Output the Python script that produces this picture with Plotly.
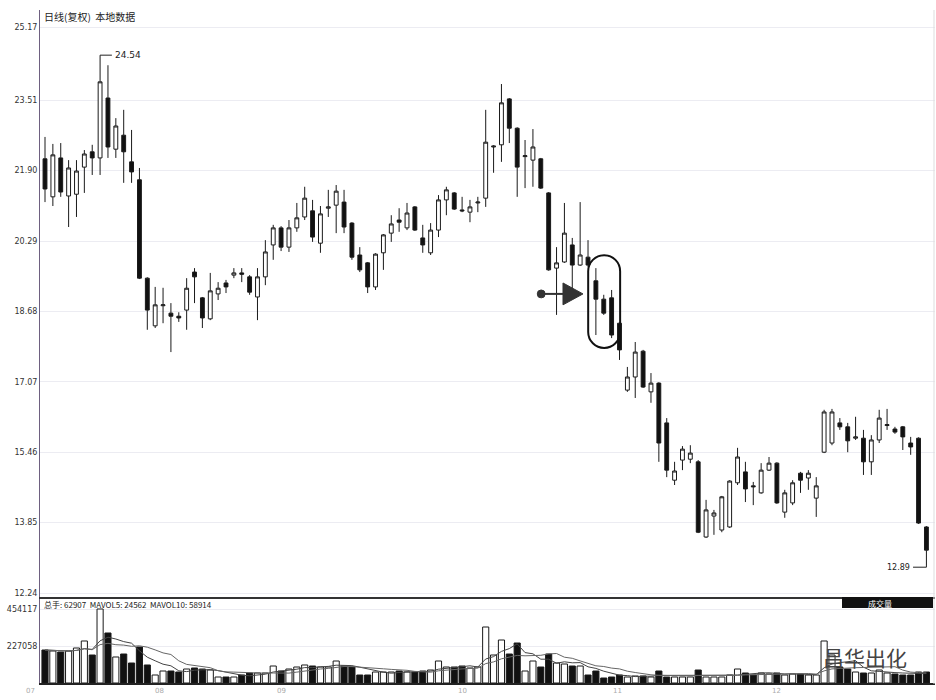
import plotly.graph_objects as go
import pandas as pd

# ---------------- data ----------------
open_ = [22.17, 21.30, 22.19, 21.32, 21.36, 21.98, 22.33, 22.19, 23.56, 22.39,
         22.71, 22.10, 21.69, 19.44, 18.35, 18.81, 18.64, 18.57, 18.71, 19.58,
         18.99, 18.51, 19.08, 19.33, 19.51, 19.56, 19.47, 19.01, 19.47, 20.20,
         20.59, 20.15, 20.59, 20.84, 20.98, 20.24, 21.04, 21.11, 21.18, 20.70,
         19.97, 19.79, 19.24, 20.02, 20.47, 20.77, 20.59, 21.07, 20.36, 20.02,
         20.54, 21.23, 21.39, 21.00, 20.95, 21.16, 21.27, 22.44, 22.49, 23.54,
         22.87, 22.22, 22.14, 22.17, 21.39, 19.67, 19.81, 20.20, 19.74, 19.92,
         19.38, 18.96, 18.99, 18.41, 16.88, 17.18, 17.77, 16.84, 17.04, 16.13,
         14.82, 15.28, 15.30, 15.24, 13.52, 14.00, 13.68, 13.75, 14.76, 15.01,
         14.69, 14.53, 15.05, 15.21, 14.09, 14.30, 14.98, 14.87, 14.41, 15.46,
         15.67, 16.13, 16.04, 15.78, 15.78, 15.24, 15.74, 16.07, 15.99, 16.04,
         15.67, 15.78, 13.75]
close = [21.48, 22.26, 21.41, 21.96, 21.89, 22.28, 22.19, 23.93, 22.44, 22.92,
         22.33, 21.87, 19.44, 18.71, 18.83, 18.83, 18.57, 18.53, 19.21, 19.47,
         18.53, 19.15, 19.21, 19.24, 19.56, 19.53, 19.12, 19.47, 20.04, 20.59,
         20.15, 20.59, 20.82, 21.27, 20.38, 20.91, 21.07, 21.43, 20.61, 19.92,
         19.63, 19.24, 19.99, 20.43, 20.68, 20.72, 20.93, 20.54, 20.20, 20.54,
         21.23, 21.46, 21.02, 20.98, 21.07, 21.18, 22.55, 22.46, 23.45, 22.87,
         21.98, 22.24, 22.44, 21.50, 19.63, 19.79, 20.47, 19.74, 19.97, 19.74,
         18.96, 18.64, 18.14, 17.80, 17.18, 17.75, 16.95, 17.04, 15.67, 15.05,
         15.03, 15.53, 15.44, 13.63, 14.14, 14.07, 14.44, 14.80, 15.35, 14.62,
         14.67, 15.05, 15.21, 14.30, 14.53, 14.76, 14.82, 14.98, 14.69, 16.38,
         16.38, 16.04, 15.72, 15.81, 15.24, 15.74, 16.24, 16.09, 15.92, 15.81,
         15.58, 13.84, 13.22]
high = [22.67, 22.51, 22.53, 22.14, 22.14, 22.37, 22.49, 24.54, 24.31, 23.10,
        23.29, 22.83, 21.96, 19.46, 19.24, 19.22, 18.87, 18.66, 19.44, 19.67,
        19.01, 19.56, 19.35, 19.40, 19.67, 19.67, 19.51, 19.67, 20.31, 20.66,
        20.63, 20.77, 21.16, 21.53, 21.23, 21.09, 21.46, 21.57, 21.46, 20.72,
        20.15, 19.81, 20.01, 20.45, 20.88, 21.04, 21.16, 21.09, 20.66, 20.70,
        21.34, 21.53, 21.41, 21.30, 21.23, 21.30, 23.29, 22.48, 23.88, 23.56,
        22.89, 22.60, 22.85, 22.19, 21.41, 20.15, 21.16, 20.36, 21.18, 20.31,
        19.67, 19.06, 19.17, 18.43, 17.41, 17.98, 17.80, 17.27, 17.06, 16.24,
        15.24, 15.60, 15.62, 15.28, 14.37, 14.14, 14.46, 14.82, 15.56, 15.24,
        14.78, 15.21, 15.35, 15.23, 14.60, 14.82, 15.01, 15.05, 14.89, 16.43,
        16.45, 16.24, 16.13, 16.27, 15.97, 15.85, 16.43, 16.45, 16.04, 16.06,
        15.81, 15.80, 13.77]
low = [21.18, 21.09, 21.30, 20.61, 20.84, 21.39, 21.80, 21.80, 22.19, 22.19,
       21.62, 21.62, 19.42, 18.26, 18.30, 18.41, 17.75, 18.44, 18.26, 18.87,
       18.30, 18.48, 18.94, 19.10, 19.44, 19.35, 19.06, 18.48, 19.28, 19.86,
       20.06, 20.04, 20.50, 20.77, 20.27, 20.02, 20.84, 20.47, 20.47, 19.86,
       19.58, 19.10, 19.17, 19.63, 20.27, 20.50, 20.54, 20.52, 20.02, 19.97,
       20.38, 20.88, 21.00, 20.95, 20.72, 20.95, 21.07, 21.85, 22.10, 22.53,
       21.30, 21.50, 21.53, 21.48, 19.61, 18.60, 19.79, 19.10, 19.72, 19.70,
       18.14, 18.60, 18.07, 17.57, 16.84, 16.70, 16.93, 16.59, 15.24, 14.89,
       14.71, 15.05, 15.21, 13.61, 13.50, 13.57, 13.63, 13.73, 14.71, 14.32,
       14.25, 14.51, 15.03, 14.28, 13.96, 14.25, 14.53, 14.60, 13.98, 15.44,
       15.62, 15.97, 15.46, 15.74, 14.94, 14.94, 15.67, 15.97, 15.88, 15.51,
       15.40, 13.82, 12.88]
volume = [202500, 196400, 190200, 196400, 214800, 257800, 171800, 454117, 306900, 159600,
          178000, 122700, 220900, 110500, 49100, 73600, 73600, 67500, 85900, 92100,
          85900, 79800, 36800, 36800, 36800, 49100, 61400, 61400, 61400, 104300,
          73600, 85900, 98200, 110500, 104300, 98200, 98200, 135000, 104300, 98200,
          49100, 49100, 67500, 67500, 67500, 73600, 67500, 67500, 73600, 79800,
          135000, 98200, 98200, 104300, 92100, 98200, 343700, 171800, 263900, 178000,
          245500, 73600, 135000, 98200, 178000, 122700, 116600, 104300, 104300, 49100,
          73600, 30700, 36800, 49100, 36800, 43000, 43000, 36800, 73600, 36800,
          36800, 36800, 36800, 79800, 36800, 36800, 36800, 49100, 85900, 61400,
          49100, 61400, 55200, 61400, 49100, 55200, 55200, 49100, 49100, 257800,
          171800, 98200, 85900, 67500, 61400, 61400, 79800, 61400, 55200, 49100,
          49100, 67500, 67500]

price_ticks = [12.24, 13.85, 15.46, 17.07, 18.68, 20.29, 21.90, 23.51, 25.17]
vol_ticks = [227058, 454117]
month_labels = ["07", "08", "09", "10", "11", "12"]
month_pos = [-1.9, 14.6, 30.1, 53.0, 72.7, 93.0]

title_text = "日线(复权)  本地数据"
vol_header = "总手: 62907  MAVOL5: 24562  MAVOL10: 58914"
high_label = "24.54"
low_label = "12.89"

# ---------------- figure ----------------
W, H = 936, 700
def py(y):
    return (H - y) / H

n = len(open_)
idx = list(range(n))
ink = "#1a1a1a"
x_range = [-0.635, 113.09]
dom = [40 / W, 935 / W]

def xfrac(v):
    return dom[0] + (v - x_range[0]) / (x_range[1] - x_range[0]) * (dom[1] - dom[0])

fig = go.Figure()
fig.add_trace(go.Candlestick(
    x=idx, open=open_, high=high, low=low, close=close,
    increasing=dict(line=dict(color=ink, width=1), fillcolor="white"),
    decreasing=dict(line=dict(color=ink, width=1), fillcolor="#111111"),
    whiskerwidth=0, showlegend=False, xaxis="x", yaxis="y"))

bar_colors = ["white" if c >= o else "#111111" for o, c in zip(open_, close)]
fig.add_trace(go.Bar(
    x=idx, y=volume, marker=dict(color=bar_colors, line=dict(color=ink, width=1)),
    width=0.78, showlegend=False, xaxis="x2", yaxis="y2"))

vs = pd.Series(volume)
ma5 = vs.rolling(5, min_periods=1).mean()
ma10 = vs.rolling(10, min_periods=1).mean()
fig.add_trace(go.Scatter(x=idx, y=ma5, mode="lines", line=dict(color="#444", width=1),
                         showlegend=False, xaxis="x2", yaxis="y2"))
fig.add_trace(go.Scatter(x=idx, y=ma10, mode="lines", line=dict(color="#666", width=1),
                         showlegend=False, xaxis="x2", yaxis="y2"))

axis_col = "#6e6080"
tickfont = dict(family="DejaVu Sans", size=8, color="#333")

fig.update_layout(
    width=W, height=H, margin=dict(l=0, r=0, t=0, b=0, autoexpand=False),
    paper_bgcolor="white", plot_bgcolor="white",
    bargap=0.2, boxgap=0.3,
    xaxis=dict(domain=dom, range=x_range, anchor="y",
               rangeslider=dict(visible=False), showticklabels=False,
               showgrid=False, zeroline=False, showline=True, automargin=False,
               linecolor="#333", linewidth=1.5),
    yaxis=dict(domain=[py(597), py(10)], range=[12.1485, 25.573], anchor="x",
               tickmode="array", tickvals=price_ticks, automargin=False,
               ticktext=[f"{v:.2f}" for v in price_ticks],
               tickfont=tickfont, showgrid=True, gridcolor="#ececf2",
               zeroline=False, showline=True, linecolor=axis_col, linewidth=1,
               ticks=""),
    xaxis2=dict(domain=dom, range=x_range, anchor="y2",
                showticklabels=False, showgrid=False, zeroline=False, automargin=False,
                showline=True, linecolor="#222", linewidth=2),
    yaxis2=dict(domain=[py(683), py(599)], range=[0, 515508], anchor="x2",
                tickmode="array", tickvals=vol_ticks, automargin=False,
                ticktext=[str(v) for v in vol_ticks], tickfont=tickfont,
                showgrid=True, gridcolor="#ececf2", zeroline=False,
                showline=True, linecolor=axis_col, linewidth=1, ticks=""),
)

annotations = []
annotations.append(dict(text=title_text, x=42 / W, y=py(17), xref="paper", yref="paper",
                        xanchor="left", yanchor="middle", showarrow=False,
                        font=dict(family="Noto Sans CJK SC", size=10, color="#222")))
annotations.append(dict(text=vol_header, x=42 / W, y=py(604), xref="paper", yref="paper",
                        xanchor="left", yanchor="middle", showarrow=False,
                        font=dict(family="Noto Sans CJK SC", size=8, color="#222")))
annotations.append(dict(text="成交量", x=880 / W, y=py(603), xref="paper", yref="paper",
                        xanchor="center", yanchor="middle", showarrow=False,
                        font=dict(family="Noto Sans CJK SC", size=8, color="white")))
for lab, pos in zip(month_labels, month_pos):
    annotations.append(dict(text=lab, x=xfrac(pos), y=py(691), xref="paper", yref="paper",
                            xanchor="center", yanchor="middle", showarrow=False,
                            font=dict(family="DejaVu Sans", size=7, color="#aaa")))
hi_i = high.index(max(high))
lo_i = low.index(min(low))
annotations.append(dict(text=high_label, x=hi_i + 1.6, y=max(high), xref="x", yref="y",
                        xanchor="left", yanchor="middle", showarrow=False,
                        font=dict(family="DejaVu Sans", size=9, color="#222")))
annotations.append(dict(text=low_label, x=lo_i - 1.8, y=min(low) - 0.05, xref="x", yref="y",
                        xanchor="right", yanchor="middle", showarrow=False,
                        font=dict(family="DejaVu Sans", size=8, color="#222")))
annotations.append(dict(text="昌华出化", x=865 / W, y=py(657), xref="paper", yref="paper",
                        xanchor="center", yanchor="middle", showarrow=False,
                        font=dict(family="Noto Sans CJK SC", size=21, color="#444")))
fig.update_layout(annotations=annotations)

shapes = []
shapes.append(dict(type="rect", xref="paper", yref="paper", x0=842 / W, x1=933 / W,
                   y0=py(608), y1=py(597), fillcolor="#111", line=dict(width=0)))
shapes.append(dict(type="line", xref="paper", yref="paper", x0=934 / W, x1=934 / W,
                   y0=py(684), y1=py(10), line=dict(color="#ddd", width=1)))
shapes.append(dict(type="line", xref="x", yref="y", x0=hi_i, x1=hi_i + 1.5,
                   y0=max(high), y1=max(high), line=dict(color="#222", width=1)))
shapes.append(dict(type="path", xref="x", yref="y",
                   path=f"M {lo_i - 1.7},{min(low) - 0.05} L {lo_i},{min(low) - 0.05} L {lo_i},{min(low)}",
                   line=dict(color="#222", width=1)))
L, R = 69.02, 73.08
cx = (L + R) / 2
hw = (R - L) / 2
yt, yb, ry = 19.60, 18.21, 0.366
k = 0.5523
path = (f"M {L},{yt} C {L},{yt + k * ry} {cx - k * hw},{yt + ry} {cx},{yt + ry} "
        f"C {cx + k * hw},{yt + ry} {R},{yt + k * ry} {R},{yt} "
        f"L {R},{yb} C {R},{yb - k * ry} {cx + k * hw},{yb - ry} {cx},{yb - ry} "
        f"C {cx - k * hw},{yb - ry} {L},{yb - k * ry} {L},{yb} Z")
shapes.append(dict(type="path", xref="x", yref="y", path=path,
                   line=dict(color="#111", width=2)))
ay = 19.08
shapes.append(dict(type="line", xref="x", yref="y", x0=63.03, x1=65.9, y0=ay, y1=ay,
                   line=dict(color="#333", width=2)))
shapes.append(dict(type="circle", xref="x", yref="y", x0=62.55, x1=63.55,
                   y0=ay - 0.09, y1=ay + 0.09, fillcolor="#333", line=dict(color="#333", width=1)))
shapes.append(dict(type="path", xref="x", yref="y",
                   path=f"M 65.82,19.33 L 68.36,{ay} L 65.82,18.83 Z",
                   fillcolor="#333", line=dict(color="#333", width=1)))
fig.update_layout(shapes=shapes)

fig.write_html("out.html", config={"displayModeBar": False},
               post_script="document.body.style.margin='0';document.body.style.overflow='hidden';")
